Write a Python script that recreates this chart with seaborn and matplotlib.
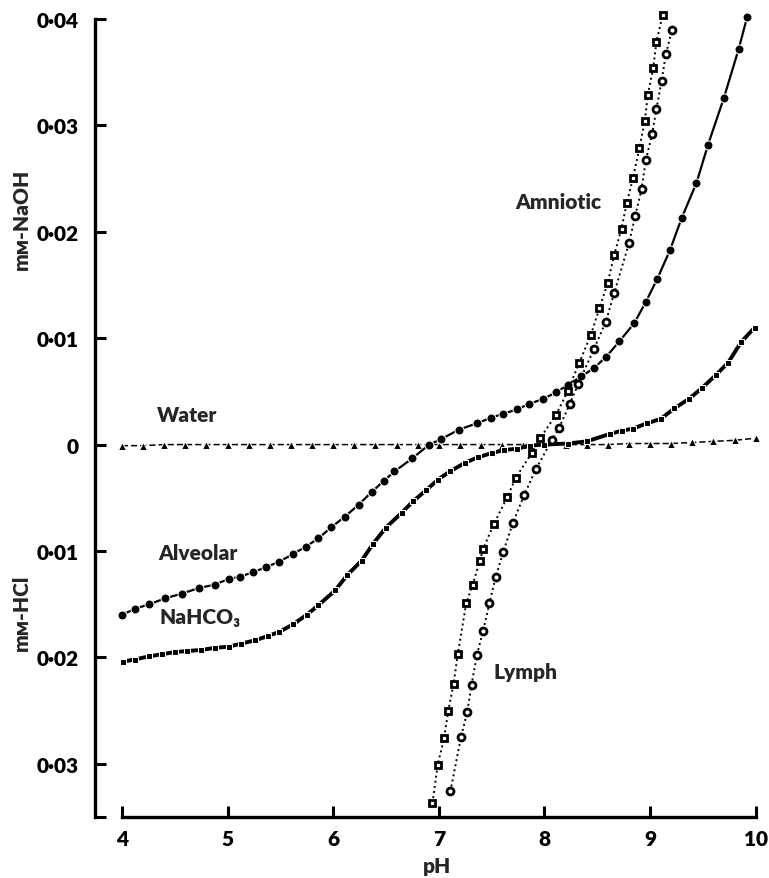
import matplotlib
matplotlib.use("Agg")
import matplotlib.pyplot as plt
import seaborn as sns

# Water (filled triangles, dashed)
water_ph = [4.0, 4.2, 4.4, 4.6, 4.8, 5.0, 5.2, 5.4, 5.6, 5.8, 6.0, 6.2, 6.4, 6.6, 6.8, 7.0,
            7.2, 7.4, 7.6, 7.8, 8.0, 8.2, 8.4, 8.6, 8.8, 9.0, 9.2, 9.4, 9.6, 9.8, 10.0]
water_y = [-0.0001, -0.0001, 0.0, 0.0, 0.0, 0.0, 0.0, 0.0, 0.0, 0.0, 0.0, 0.0, 0.0, 0.0, 0.0, 0.0,
           0.0, 0.0, 0.0, 0.0, 0.0, 0.0, 0.0, 0.0, 0.0001, 0.0001, 0.0001, 0.0002, 0.0003, 0.0004, 0.0006]

# Alveolar (filled circles, solid)
alv_ph = [4.0, 4.12, 4.26, 4.41, 4.57, 4.73, 4.88, 5.01, 5.12, 5.24, 5.36, 5.49, 5.62, 5.74,
          5.86, 5.98, 6.11, 6.24, 6.37, 6.48, 6.58, 6.75, 6.91, 7.02, 7.19, 7.36, 7.49, 7.61,
          7.74, 7.85, 7.99, 8.11, 8.22, 8.35, 8.47, 8.58, 8.71, 8.85, 8.96, 9.07, 9.19, 9.30,
          9.44, 9.55, 9.70, 9.84, 9.92]
alv_y = [-0.0160, -0.01545, -0.0150, -0.01445, -0.0140, -0.01348, -0.01316, -0.01263, -0.01241,
         -0.0120, -0.01154, -0.0110, -0.01029, -0.0096, -0.00882, -0.00779, -0.00678, -0.00566,
         -0.00441, -0.00341, -0.00253, -0.00129, 0.0, 0.0005, 0.0014, 0.0020, 0.0025, 0.0029,
         0.0033, 0.0038, 0.0043, 0.0049, 0.0056, 0.0064, 0.0072, 0.0082, 0.0097, 0.0114, 0.0134,
         0.0156, 0.0183, 0.0213, 0.0246, 0.0282, 0.0326, 0.0372, 0.0402]

# NaHCO3 (filled squares, heavy solid)
nahco3_ph = [4.01, 4.12, 4.26, 4.38, 4.50, 4.62, 4.75, 4.88, 5.01, 5.13, 5.26, 5.38, 5.49, 5.62,
             5.75, 5.86, 6.02, 6.13, 6.27, 6.38, 6.50, 6.65, 6.76, 6.88, 6.99, 7.11, 7.25, 7.37,
             7.50, 7.62, 7.74, 7.86, 8.0, 8.22, 8.40, 8.62, 8.73, 8.84, 8.97, 9.10, 9.23, 9.37,
             9.49, 9.62, 9.74, 9.86, 9.99]
nahco3_y = [-0.0204, -0.0202, -0.0199, -0.0197, -0.0195, -0.0194, -0.0193, -0.0191, -0.0190,
            -0.0187, -0.0184, -0.0180, -0.0176, -0.0169, -0.0160, -0.0151, -0.0137, -0.0123,
            -0.0109, -0.0093, -0.0078, -0.0064, -0.0053, -0.0043, -0.0033, -0.0025, -0.0017,
            -0.0012, -0.0008, -0.0005, -0.0004, -0.0001, 0.0, 0.0001, 0.0003, 0.0010, 0.0013,
            0.0015, 0.0020, 0.0024, 0.0034, 0.0043, 0.0053, 0.0065, 0.0077, 0.0096, 0.0110]

# Amniotic (open squares, dotted)
amn_ph = [6.94, 6.99, 7.05, 7.09, 7.14, 7.18, 7.26, 7.32, 7.39, 7.42, 7.52, 7.65, 7.73, 7.88,
          7.96, 8.11, 8.22, 8.33, 8.44, 8.52, 8.60, 8.66, 8.73, 8.78, 8.84, 8.90, 8.95, 8.98,
          9.03, 9.06, 9.12]
amn_y = [-0.0337, -0.0301, -0.0276, -0.0250, -0.0225, -0.0197, -0.0149, -0.0132, -0.0109,
         -0.0098, -0.0075, -0.0049, -0.0031, -0.0008, 0.0006, 0.0028, 0.0050, 0.0077, 0.0103,
         0.0128, 0.0152, 0.0178, 0.0203, 0.0227, 0.0251, 0.0279, 0.0304, 0.0329, 0.0354,
         0.0378, 0.0404]

# Lymph (open circles, dotted)
lym_ph = [7.11, 7.21, 7.27, 7.31, 7.36, 7.42, 7.48, 7.54, 7.61, 7.70, 7.81, 7.92, 8.07, 8.14,
          8.24, 8.32, 8.47, 8.58, 8.66, 8.80, 8.86, 8.92, 8.96, 9.02, 9.06, 9.11, 9.15, 9.21]
lym_y = [-0.0326, -0.0275, -0.0251, -0.0226, -0.0198, -0.0175, -0.0149, -0.0124, -0.0101,
         -0.0074, -0.0047, -0.0023, 0.0004, 0.0016, 0.0038, 0.0057, 0.0090, 0.0115, 0.0142,
         0.0189, 0.0215, 0.0240, 0.0267, 0.0292, 0.0315, 0.0342, 0.0367, 0.0390]

x_ticks = [4, 5, 6, 7, 8, 9, 10]
y_ticks = [-0.03, -0.02, -0.01, 0.0, 0.01, 0.02, 0.03, 0.04]
y_labels = ["0·03", "0·02", "0·01", "0", "0·01", "0·02", "0·03", "0·04"]

sns.set_style("white")
plt.rcParams["font.family"] = ["Lato", "DejaVu Sans"]
plt.rcParams["font.weight"] = "heavy"

fig = plt.figure(figsize=(7.69, 8.79), dpi=100)
ax = fig.add_axes([0.1235, 0.0694, 0.866, 0.9200])

kw = dict(ax=ax, sort=False, estimator=None, color="black", clip_on=False)
sns.lineplot(x=water_ph, y=water_y, marker="^", markersize=6, lw=1.1,
             dashes=False, linestyle=(0, (4, 2)), **kw)
sns.lineplot(x=alv_ph, y=alv_y, marker="o", markersize=6.5, lw=1.6, **kw)
sns.lineplot(x=nahco3_ph, y=nahco3_y, marker="s", markersize=5, lw=2.8, **kw)
sns.lineplot(x=amn_ph, y=amn_y, marker="s", markersize=4.5, lw=1.4, linestyle=":",
             markerfacecolor="white", markeredgecolor="black", markeredgewidth=2.0, **kw)
sns.lineplot(x=lym_ph, y=lym_y, marker="o", markersize=5, lw=1.4, linestyle=":",
             markerfacecolor="white", markeredgecolor="black", markeredgewidth=2.0, **kw)

ax.set_xlim(3.745, 10.05)
ax.set_ylim(-0.035, 0.041)

for s in ["top", "right"]:
    ax.spines[s].set_visible(False)
for s in ["left", "bottom"]:
    ax.spines[s].set_linewidth(2.4)
    ax.spines[s].set_color("black")
ax.spines["left"].set_bounds(-0.035, 0.04)
ax.spines["bottom"].set_bounds(4, 10)

ax.set_xticks(x_ticks)
ax.set_xticklabels([str(t) for t in x_ticks])
ax.set_yticks(y_ticks)
ax.set_yticklabels(y_labels)
ax.set_yticks([-0.035], minor=True)
ax.tick_params(axis="both", which="both", direction="in", length=8, width=2.2,
               labelsize=15, colors="black", bottom=True, left=True)
ax.tick_params(axis="y", pad=12)
ax.tick_params(axis="x", pad=9)

ax.set_xlabel("")
ax.set_ylabel("")

fig.text(0.568, 0.0145, "pH", ha="center", va="center", fontsize=15, fontweight="heavy")
fig.text(0.028, 0.75, "mᴍ-NaOH", rotation=90, ha="center", va="center",
         fontsize=15, fontweight="heavy")
fig.text(0.028, 0.303, "mᴍ-HCl", rotation=90, ha="center", va="center",
         fontsize=15, fontweight="heavy")

txt = dict(fontsize=15, fontweight="heavy", ha="center", va="center")
ax.text(4.62, 0.0028, "Water", **txt)
ax.text(4.72, -0.0101, "Alveolar", **txt)
ax.text(4.74, -0.0162, "NaHCO₃", **txt)
ax.text(8.13, 0.0228, "Amniotic", **txt)
ax.text(7.82, -0.0213, "Lymph", **txt)

plt.savefig("out.png", dpi=100)
